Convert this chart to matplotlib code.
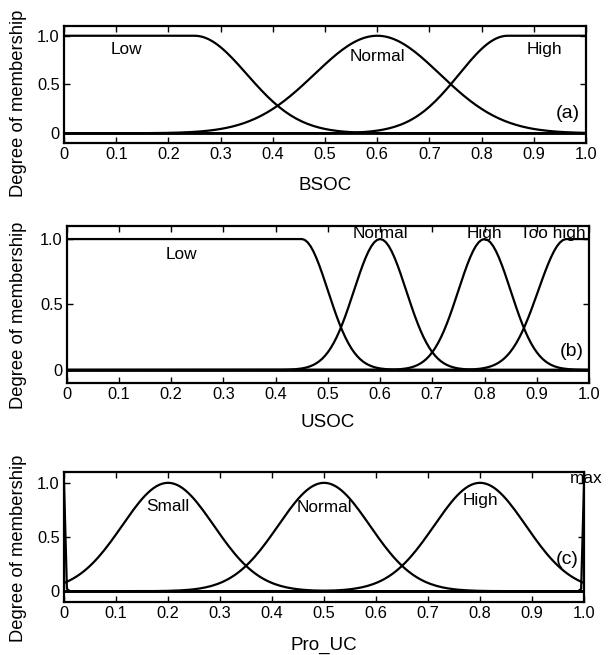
import matplotlib
matplotlib.use("Agg")
import matplotlib.pyplot as plt
import numpy as np

plt.rcParams.update({
    "font.family": ["Liberation Sans", "DejaVu Sans"],
    "font.size": 11,
    "axes.linewidth": 1.6,
    "xtick.direction": "in",
    "ytick.direction": "in",
    "xtick.top": True,
    "ytick.right": True,
    "xtick.major.size": 4,
    "ytick.major.size": 4,
    "xtick.major.width": 1.0,
    "ytick.major.width": 1.0,
})

# membership functions, gauss2mf style: left sigma/centre, right sigma/centre
bsoc_names = ["Low", "Normal", "High"]
bsoc_c1 = [0.0, 0.60, 0.85]
bsoc_s1 = [0.10, 0.12, 0.093]
bsoc_c2 = [0.25, 0.60, 1.0]
bsoc_s2 = [0.10, 0.12, 0.093]

usoc_names = ["Low", "Normal", "High", "Too high"]
usoc_c1 = [0.0, 0.60, 0.80, 0.957]
usoc_s1 = [0.05, 0.05, 0.05, 0.054]
usoc_c2 = [0.45, 0.60, 0.80, 1.0]
usoc_s2 = [0.05, 0.05, 0.05, 0.054]

pro_names = ["min", "Small", "Normal", "High", "max"]
pro_c1 = [0.0, 0.20, 0.50, 0.80, 1.0]
pro_s1 = [0.002, 0.088, 0.088, 0.088, 0.002]
pro_c2 = [0.0, 0.20, 0.50, 0.80, 1.0]
pro_s2 = [0.002, 0.088, 0.088, 0.088, 0.002]

# label positions (data coords) and panel tags
bsoc_lab = [(0.12, 0.86), (0.60, 0.79), (0.92, 0.86)]
usoc_lab = [(0.22, 0.88), (0.60, 1.04), (0.80, 1.04), (0.93, 1.04)]
pro_lab = [None, (0.20, 0.78), (0.50, 0.77), (0.80, 0.84), (1.004, 1.04)]

xticks = np.round(np.arange(0, 1.01, 0.1), 1)
xticklabels = ["0"] + ["%.1f" % v for v in xticks[1:]]
yticks = [0, 0.5, 1.0]
yticklabels = ["0", "0.5", "1.0"]

x = np.linspace(0, 1, 181)


def gauss2(x, s1, c1, s2, c2):
    y = np.ones_like(x)
    lo = x < c1
    hi = x > c2
    y[lo] = np.exp(-(x[lo] - c1) ** 2 / (2 * s1 ** 2))
    y[hi] = np.exp(-(x[hi] - c2) ** 2 / (2 * s2 ** 2))
    return y


fig = plt.figure(figsize=(6.08, 6.55), dpi=100)

panels = [
    ([0.1053, 0.7817, 0.8586, 0.1786], bsoc_names, bsoc_s1, bsoc_c1, bsoc_s2, bsoc_c2,
     bsoc_lab, "BSOC", "(a)", (0.965, 0.20), -0.071, 0.34, -0.29),
    ([0.1100, 0.4153, 0.8586, 0.2397], usoc_names, usoc_s1, usoc_c1, usoc_s2, usoc_c2,
     usoc_lab, "USOC", "(b)", (0.968, 0.14), -0.077, 0.43, -0.20),
    ([0.1053, 0.0809, 0.8553, 0.1985], pro_names, pro_s1, pro_c1, pro_s2, pro_c2,
     pro_lab, "Pro_UC", "(c)", (0.967, 0.29), -0.071, 0.415, -0.27),
]

for rect, names, s1, c1, s2, c2, labs, xlab, tag, tagpos, ylx, yly, xly in panels:
    ax = fig.add_axes(rect)
    ax.axhline(0, color="k", lw=2.0)
    for i in range(len(names)):
        ax.plot(x, gauss2(x, s1[i], c1[i], s2[i], c2[i]), color="k", lw=1.6)
        if labs[i] is not None:
            ax.text(labs[i][0], labs[i][1], names[i], ha="center", va="center",
                    fontsize=12.4, clip_on=False)
    ax.text(tagpos[0], tagpos[1], tag, ha="center", va="center", fontsize=14)
    ax.set_xlim(0, 1)
    ax.set_ylim(-0.1, 1.1)
    ax.set_xticks(xticks)
    ax.set_xticklabels(xticklabels)
    ax.set_yticks(yticks)
    ax.set_yticklabels(yticklabels)
    ax.set_ylabel("Degree of membership", fontsize=13.2)
    ax.yaxis.set_label_coords(ylx, yly)
    ax.set_xlabel(xlab, fontsize=13.5)
    ax.xaxis.set_label_coords(0.5, xly)
    ax.xaxis.label.set_va("top")
    ax.tick_params(labelsize=11.8, pad=3)

fig.savefig("out.png", dpi=100)
